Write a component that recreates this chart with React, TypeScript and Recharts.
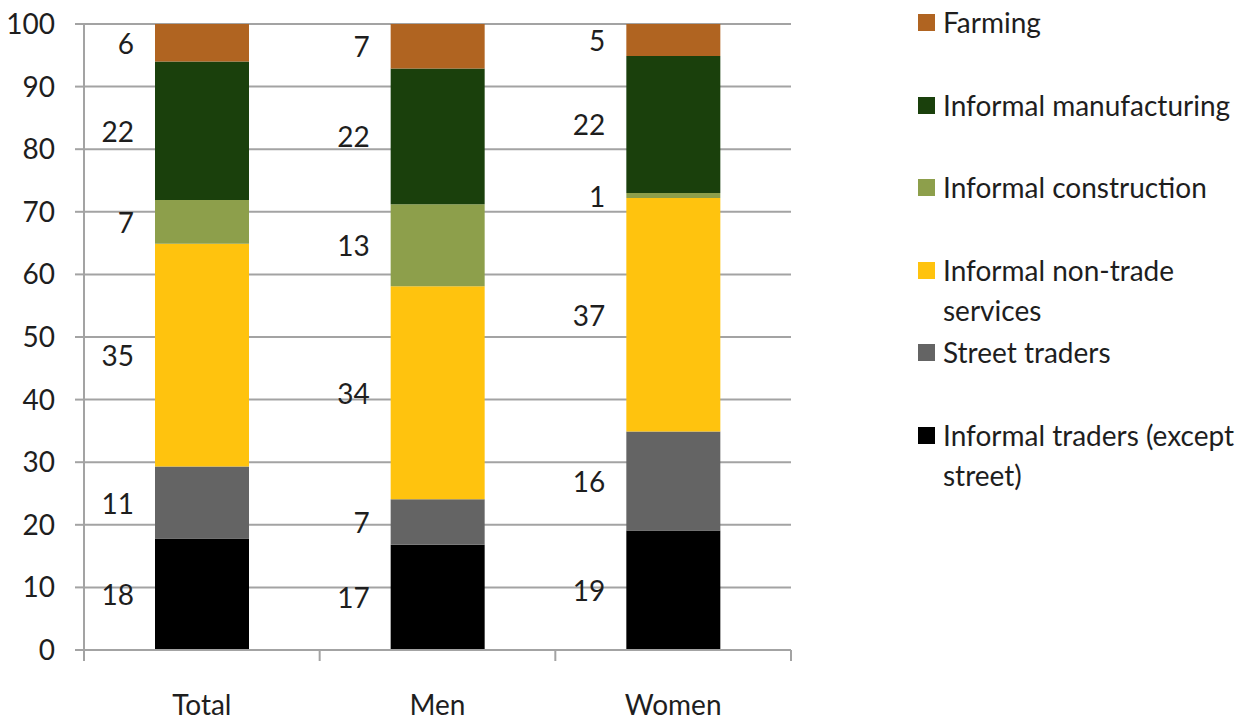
import React from 'react'
import { BarChart, Bar, XAxis, YAxis, CartesianGrid, LabelList } from 'recharts'

const categories = ['Total', 'Men', 'Women']

// bar heights (share of employment, %)
const traders = [17.8, 16.8, 19.1]
const street = [11.5, 7.3, 15.8]
const services = [35.6, 34.0, 37.3]
const construction = [7.0, 13.1, 0.8]
const manufacturing = [22.1, 21.7, 21.9]
const farming = [6.0, 7.1, 5.1]

// rounded numbers printed beside the bars
const tradersLabels = [18, 17, 19]
const streetLabels = [11, 7, 16]
const servicesLabels = [35, 34, 37]
const constructionLabels = [7, 13, 1]
const manufacturingLabels = [22, 22, 22]
const farmingLabels = [6, 7, 5]

const yTicks = [0, 10, 20, 30, 40, 50, 60, 70, 80, 90, 100]

const series = [
  { key: 'traders', name: 'Informal traders (except street)', color: '#000000', values: traders, labels: tradersLabels },
  { key: 'street', name: 'Street traders', color: '#646464', values: street, labels: streetLabels },
  { key: 'services', name: 'Informal non-trade services', color: '#FFC30E', values: services, labels: servicesLabels },
  { key: 'construction', name: 'Informal construction', color: '#8D9F4B', values: construction, labels: constructionLabels },
  { key: 'manufacturing', name: 'Informal manufacturing', color: '#1A400C', values: manufacturing, labels: manufacturingLabels },
  { key: 'farming', name: 'Farming', color: '#B06421', values: farming, labels: farmingLabels }
]

const data = categories.map((category, i) => {
  const row: any = { category }
  series.forEach(s => {
    row[s.key] = s.values[i]
    row[s.key + 'Label'] = s.labels[i]
  })
  return row
})

const FONT = 'Lato, "Open Sans", sans-serif'
const TEXT = '#1e1e1e'
const GRID = '#a3a3a3'

const SideLabel = (props: any) => {
  const { x, y, height, value } = props
  return (
    <text
      x={x - 21}
      y={y + height / 2}
      textAnchor="end"
      dominantBaseline="central"
      fontSize={28}
      fill={TEXT}
    >
      {value}
    </text>
  )
}

const CategoryTick = (props: any) => {
  const { x, y, payload, index, visibleTicksCount, width } = props
  const half = (width || 707) / (visibleTicksCount || 3) / 2
  return (
    <g>
      <line x1={x - half} x2={x - half} y1={y} y2={y + 11} stroke={GRID} strokeWidth={2} />
      {index === visibleTicksCount - 1 && (
        <line x1={x + half} x2={x + half} y1={y} y2={y + 11} stroke={GRID} strokeWidth={2} />
      )}
      <text x={x} y={y + 54} textAnchor="middle" dominantBaseline="central" fontSize={28} fill={TEXT}>
        {payload.value}
      </text>
    </g>
  )
}

export default function App() {
  const legendItems = [...series].reverse()
  return (
    <div style={{ position: 'absolute', left: 0, top: 0, width: 1247, height: 723, background: '#fff', fontFamily: FONT }}>
      <BarChart
        width={1247}
        height={723}
        data={data}
        margin={{ top: 24, right: 456, left: 0, bottom: 13 }}
        barSize={94}
      >
        <CartesianGrid vertical={false} stroke={GRID} strokeWidth={2} />
        <YAxis
          width={84}
          domain={[0, 100]}
          ticks={yTicks}
          interval={0}
          tickSize={9}
          tickMargin={20}
          axisLine={{ stroke: GRID, strokeWidth: 2 }}
          tickLine={{ stroke: GRID, strokeWidth: 2 }}
          tick={{ fontSize: 28, fill: TEXT }}
        />
        <XAxis
          dataKey="category"
          height={60}
          tickSize={0}
          tickMargin={0}
          tickLine={false}
          axisLine={{ stroke: GRID, strokeWidth: 2 }}
          tick={<CategoryTick />}
          interval={0}
        />
        {series.map(s => (
          <Bar key={s.key} dataKey={s.key} name={s.name} stackId="a" fill={s.color} isAnimationActive={false}>
            <LabelList dataKey={s.key + 'Label'} content={<SideLabel />} />
          </Bar>
        ))}
      </BarChart>
      <div style={{ position: 'absolute', left: 918, top: 0, width: 329 }}>
        {legendItems.map((s, i) => (
          <div
            key={s.key}
            style={{
              position: 'absolute',
              top: 2 + i * 82.6,
              left: 0,
              width: 320,
              display: 'flex',
              alignItems: 'flex-start'
            }}
          >
            <div style={{ width: 17, height: 17, background: s.color, marginTop: 12, flexShrink: 0 }} />
            <div style={{ marginLeft: 8, fontSize: 28, lineHeight: '40px', color: TEXT }}>{s.name}</div>
          </div>
        ))}
      </div>
    </div>
  )
}
